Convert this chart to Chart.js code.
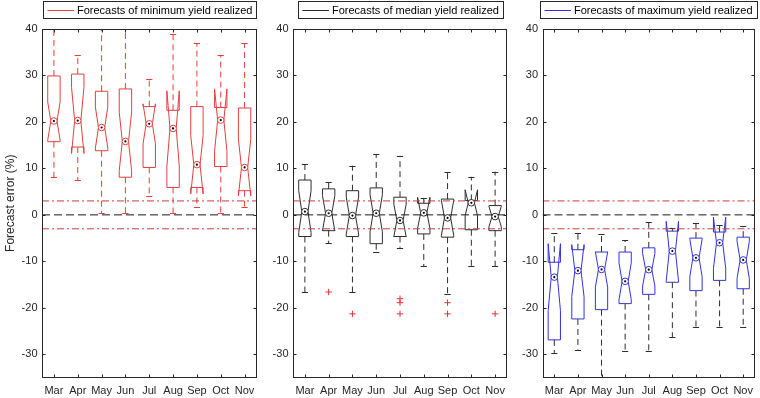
<!DOCTYPE html>
<html>
<head>
<meta charset="utf-8">
<script src="https://cdn.jsdelivr.net/npm/chart.js@4.4.1/dist/chart.umd.min.js"></script>
<style>
  html, body { margin: 0; padding: 0; background: #fff; }
  #wrap { position: relative; width: 760px; height: 398px; overflow: hidden; }
  #wrap canvas { position: absolute; top: 0; }
</style>
</head>
<body>
<div id="wrap">
  <canvas id="c-min" width="262" height="398" style="left:0px"></canvas>
  <canvas id="c-med" width="250" height="398" style="left:262px"></canvas>
  <canvas id="c-max" width="248" height="398" style="left:512px"></canvas>
</div>
<script>
const months = ['Mar', 'Apr', 'May', 'Jun', 'Jul', 'Aug', 'Sep', 'Oct', 'Nov'];
const yTicks = [-30, -20, -10, 0, 10, 20, 30, 40];
const bandLevels = [3, -3];

// forecasts of minimum yield realized
const minQ1 = [15.75, 14.6, 13.8, 8.1, 10.2, 5.9, 5.9, 10.4, 5.2];
const minQ3 = [29.9, 30.3, 26.6, 27.1, 23.3, 22.5, 23.3, 23.1, 23.0];
const minMed = [20.2, 20.3, 18.8, 15.8, 19.6, 18.6, 10.8, 20.4, 10.2];
const minNotch = [4.1, 7.1, 4.4, 6.3, 4.3, 8.1, 6.3, 6.7, 6.1];
const minLow = [8.1, 7.5, 0.4, 0.4, 4.1, 0.4, 1.6, 0.4, 1.8];
const minHigh = [44, 34.4, 44, 44, 29.2, 39.0, 36.9, 34.4, 36.9];
const minOut = [[], [], [], [], [], [], [], [], []];

// forecasts of median yield realized
const medQ1 = [-4.66, -3.4, -4.66, -6.2, -4.66, -4.1, -4.8, -3.2, -3.4];
const medQ3 = [7.5, 5.6, 5.2, 5.8, 3.8, 2.5, 3.4, 3.1, 2.0];
const medMed = [0.7, 0.35, -0.15, 0.35, -1.2, 0.43, -0.65, 2.6, -0.37];
const medNotch = [4.5, 3.8, 4.0, 4.0, 3.5, 3.35, 3.8, 2.8, 2.2];
const medLow = [-16.6, -6.1, -16.6, -8.0, -7.1, -11.1, -17.0, -11.1, -11.1];
const medHigh = [11.0, 7.15, 10.6, 13.0, 12.7, 3.65, 9.3, 8.2, 9.3];
const medOut = [[], [-16.6], [-21.3], [], [-18.05, -18.9, -21.3], [], [-18.9, -21.3], [], [-21.3]];

// forecasts of maximum yield realized
const maxQ1 = [-26.9, -22.4, -20.4, -19.1, -17.1, -14.5, -16.3, -14.1, -15.9];
const maxQ3 = [-10.2, -7.5, -8.0, -8.0, -7.1, -3.5, -5.0, -3.7, -4.8];
const maxMed = [-13.4, -12.0, -11.75, -14.3, -11.8, -7.8, -9.25, -6.0, -9.7];
const maxNotch = [7.2, 5.6, 3.8, 4.0, 3.5, 6.4, 4.0, 5.5, 4.0];
const maxLow = [-29.7, -29.0, -40, -29.4, -29.4, -26.3, -24.2, -24.2, -24.2];
const maxHigh = [-3.9, -3.95, -4.1, -5.5, -1.6, -2.8, -1.8, -2.2, -2.45];
const maxOut = [[], [], [], [], [], [], [], [], []];

const FONT = '"Liberation Sans", Arial, Helvetica, sans-serif';
const AXIS = '#262626';
const BOX_WIDTH = 0.52;

const panels = [
  {
    canvas: 'c-min', axisW: 42, padRight: 5.5, yTitle: true,
    label: 'Forecasts of minimum yield realized',
    color: 'rgb(230,62,62)', whisker: 'rgb(230,62,62)',
    q1: minQ1, q3: minQ3, med: minMed, notch: minNotch, low: minLow, high: minHigh, out: minOut
  },
  {
    canvas: 'c-med', axisW: 31, padRight: 3.5, yTitle: false,
    label: 'Forecasts of median yield realized',
    color: 'rgb(45,45,45)', whisker: 'rgb(45,45,45)',
    q1: medQ1, q3: medQ3, med: medMed, notch: medNotch, low: medLow, high: medHigh, out: medOut
  },
  {
    canvas: 'c-max', axisW: 30.5, padRight: 2, yTitle: false,
    label: 'Forecasts of maximum yield realized',
    color: 'rgb(50,50,220)', whisker: 'rgb(45,45,45)',
    q1: maxQ1, q3: maxQ3, med: maxMed, notch: maxNotch, low: maxLow, high: maxHigh, out: maxOut
  }
];

function makeBoxPlugin(panel) {
  return {
    id: 'notchedBoxes',
    beforeDatasetsDraw(chart) {
      const ctx = chart.ctx;
      const xs = chart.scales.x;
      const ys = chart.scales.y;
      const area = chart.chartArea;
      const hw = (xs.getPixelForValue(1 + BOX_WIDTH / 2) - xs.getPixelForValue(1));

      ctx.save();
      ctx.beginPath();
      ctx.rect(area.left, area.top, area.right - area.left, area.bottom - area.top);
      ctx.clip();
      ctx.lineWidth = 1;

      months.forEach((m, i) => {
        const x = xs.getPixelForValue(i + 1);
        const yq1 = ys.getPixelForValue(panel.q1[i]);
        const yq3 = ys.getPixelForValue(panel.q3[i]);
        const ymed = ys.getPixelForValue(panel.med[i]);
        const ylo = ys.getPixelForValue(panel.med[i] - panel.notch[i]);
        const yhi = ys.getPixelForValue(panel.med[i] + panel.notch[i]);

        // whiskers
        ctx.strokeStyle = panel.whisker;
        ctx.setLineDash([6, 4]);
        ctx.beginPath();
        ctx.moveTo(x, yq3);
        ctx.lineTo(x, ys.getPixelForValue(panel.high[i]));
        ctx.moveTo(x, yq1);
        ctx.lineTo(x, ys.getPixelForValue(panel.low[i]));
        ctx.stroke();
        ctx.setLineDash([]);

        // caps
        ctx.beginPath();
        [panel.high[i], panel.low[i]].forEach(v => {
          const y = Math.round(ys.getPixelForValue(v)) + 0.5;
          ctx.moveTo(x - hw / 2, y);
          ctx.lineTo(x + hw / 2, y);
        });
        ctx.stroke();

        // notched box
        ctx.strokeStyle = panel.color;
        ctx.beginPath();
        ctx.moveTo(x - hw, yq1);
        ctx.lineTo(x - hw, ylo);
        ctx.lineTo(x - hw / 2, ymed);
        ctx.lineTo(x - hw, yhi);
        ctx.lineTo(x - hw, yq3);
        ctx.lineTo(x + hw, yq3);
        ctx.lineTo(x + hw, yhi);
        ctx.lineTo(x + hw / 2, ymed);
        ctx.lineTo(x + hw, ylo);
        ctx.lineTo(x + hw, yq1);
        ctx.closePath();
        ctx.stroke();
      });
      ctx.restore();
    },
    afterDraw(chart) {
      const ctx = chart.ctx;
      const xs = chart.scales.x;
      const ys = chart.scales.y;
      const {left, right, top, bottom} = chart.chartArea;
      const L = Math.round(left) + 0.5, R = Math.round(right) - 0.5;
      const T = Math.round(top) + 0.5, B = Math.round(bottom) - 0.5;

      ctx.save();
      ctx.strokeStyle = AXIS;
      ctx.lineWidth = 1;
      ctx.strokeRect(L, T, R - L, B - T);

      ctx.beginPath();
      months.forEach((m, i) => {
        const x = Math.round(xs.getPixelForValue(i + 1)) + 0.5;
        ctx.moveTo(x, B); ctx.lineTo(x, B - 3);
        ctx.moveTo(x, T); ctx.lineTo(x, T + 3);
      });
      yTicks.forEach(v => {
        const y = Math.round(ys.getPixelForValue(v)) + 0.5;
        ctx.moveTo(L, y); ctx.lineTo(L + 3, y);
        ctx.moveTo(R, y); ctx.lineTo(R - 3, y);
      });
      ctx.stroke();

      // legend box above the axes
      ctx.font = '11px ' + FONT;
      const tw = ctx.measureText(panel.label).width;
      const bw = Math.round(tw + 38);
      const bx = Math.round((left + right) / 2 - bw / 2) + 0.5;
      const by = 1.5, bh = 17;
      ctx.fillStyle = '#fff';
      ctx.fillRect(bx, by, bw, bh);
      ctx.strokeStyle = AXIS;
      ctx.strokeRect(bx, by, bw, bh);
      ctx.strokeStyle = panel.color;
      ctx.beginPath();
      ctx.moveTo(bx + 4, 10.5);
      ctx.lineTo(bx + 30.5, 10.5);
      ctx.stroke();
      ctx.fillStyle = '#000';
      ctx.textBaseline = 'middle';
      ctx.textAlign = 'left';
      ctx.fillText(panel.label, bx + 33.5, 10.5);
      ctx.restore();
    }
  };
}

panels.forEach(panel => {
  const medians = months.map((m, i) => ({x: i + 1, y: panel.med[i]}));
  const outliers = [];
  panel.out.forEach((list, i) => list.forEach(v => outliers.push({x: i + 1, y: v})));
  const span = (y) => [{x: 0.5, y: y}, {x: 9.5, y: y}];

  new Chart(document.getElementById(panel.canvas), {
    type: 'scatter',
    data: {
      datasets: [
        {
          data: medians, pointStyle: 'circle', pointRadius: 1.1,
          pointBackgroundColor: '#000', pointBorderWidth: 0
        },
        {
          data: medians, pointStyle: 'circle', pointRadius: 3.3,
          pointBackgroundColor: '#fff', pointBorderColor: panel.color, pointBorderWidth: 1
        },
        {
          data: outliers, pointStyle: 'cross', pointRadius: 3.2,
          pointBorderColor: 'rgb(230,50,50)', pointBorderWidth: 1
        },
        {
          data: span(0), showLine: true, pointRadius: 0,
          borderColor: '#1a1a1a', borderWidth: 1, borderDash: [8, 4]
        },
        ...bandLevels.map(v => ({
          data: span(v), showLine: true, pointRadius: 0,
          borderColor: 'rgb(205,60,60)', borderWidth: 1, borderDash: [7, 3, 2, 3]
        }))
      ]
    },
    options: {
      responsive: false,
      animation: false,
      events: [],
      layout: { padding: { left: 0, right: panel.padRight, top: 29, bottom: 0 } },
      plugins: {
        legend: { display: false },
        tooltip: { enabled: false }
      },
      scales: {
        x: {
          type: 'linear', min: 0.5, max: 9.5,
          grid: { display: false, drawTicks: false }, border: { display: false },
          afterBuildTicks: (scale) => { scale.ticks = months.map((m, i) => ({value: i + 1})); },
          afterFit: (scale) => { scale.height = 20.5; },
          ticks: {
            autoSkip: false, maxRotation: 0, padding: 6.5,
            color: AXIS, font: { family: FONT, size: 11 },
            callback: (v) => months[v - 1]
          }
        },
        y: {
          type: 'linear', min: -35, max: 40,
          grid: { display: false, drawTicks: false }, border: { display: false },
          afterBuildTicks: (scale) => { scale.ticks = yTicks.map(v => ({value: v})); },
          afterFit: (scale) => { scale.width = panel.axisW; },
          title: {
            display: panel.yTitle, text: 'Forecast error (%)',
            color: AXIS, font: { family: FONT, size: 12 }, padding: { top: 3, bottom: 0 }
          },
          ticks: {
            padding: 4.5, color: AXIS, font: { family: FONT, size: 11 }
          }
        }
      }
    },
    plugins: [makeBoxPlugin(panel)]
  });
});
</script>
</body>
</html>
